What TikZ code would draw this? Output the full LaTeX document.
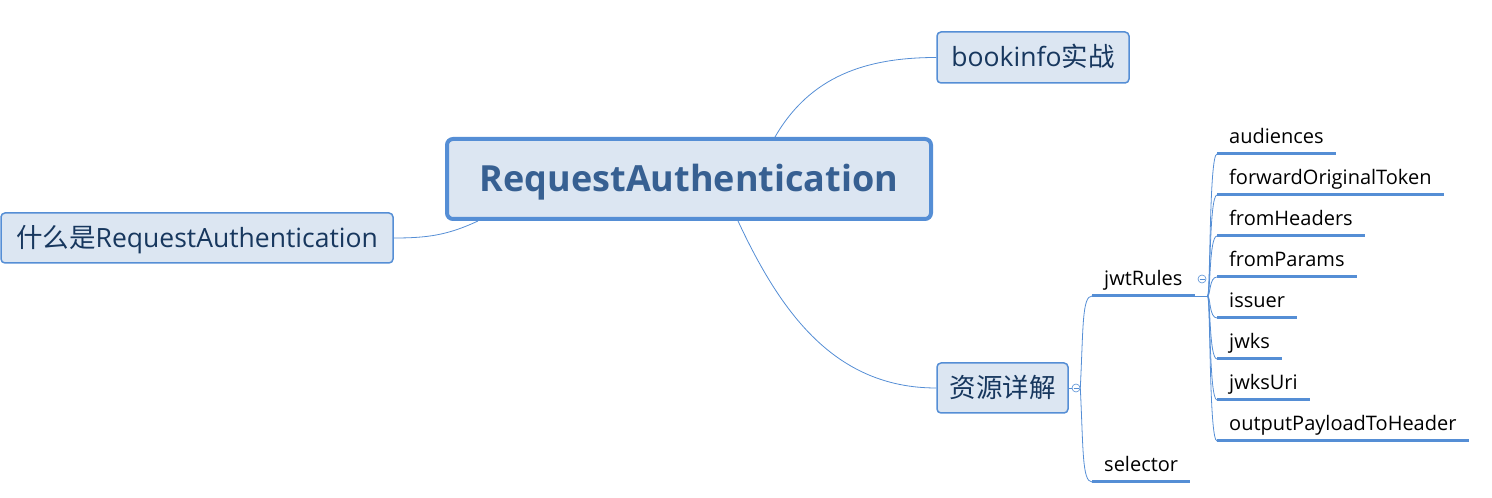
\documentclass[tikz,border=0pt]{standalone}
\usepackage{fontspec}
\setmainfont{Open Sans}
\newfontfamily\cjk{Noto Sans CJK SC}
\usetikzlibrary{positioning}
\definecolor{boxfill}{HTML}{DCE6F2}
\definecolor{boxline}{HTML}{558ED5}
\definecolor{roottext}{HTML}{376092}
\definecolor{boxtext}{HTML}{17375E}

\begin{document}
\begin{tikzpicture}[x=1pt,y=1pt,
    topic/.style={draw=boxline, fill=boxfill, rounded corners=4pt, line width=1.5pt, text=boxtext,
        font=\fontsize{26.5}{28}\selectfont, inner sep=0pt, text height=23pt, text depth=4pt},
    root/.style={topic, line width=4pt, rounded corners=6pt, text=roottext, text height=32pt, text depth=6pt,
        font=\fontsize{36}{40}\selectfont\bfseries, minimum width=484pt, minimum height=80pt},
    leaf/.style={anchor=south west, inner xsep=12pt, inner ysep=5pt, text height=15pt, text depth=5pt,
        font=\fontsize{20}{22}\selectfont},
    uline/.style={boxline, line width=3pt},
    branch/.style={boxline, line width=0.8pt},
    toggle/.style={circle, draw=boxline, fill=white, line width=0.6pt, minimum size=8pt, inner sep=0pt,
        path picture={\draw[boxline, line width=0.6pt] ([xshift=-2.5pt]path picture bounding box.center)
            -- ([xshift=2.5pt]path picture bounding box.center);}}
]
    \useasboundingbox (0,0) rectangle (1492,498);

    % central topic and main topics
    \node[root] (ra) at (689,319) {RequestAuthentication};
    \node[topic, minimum width=392pt, minimum height=50pt] (what) at (197,260) {{\cjk 什么是}RequestAuthentication};
    \node[topic, minimum width=192pt, minimum height=51pt] (book) at (1033,440.5) {bookinfo{\cjk 实战}};
    \node[topic, minimum width=131pt, minimum height=50pt] (res) at (1002.5,110) {\cjk 资源详解};

    \draw[branch] ([xshift=330pt]ra.north west) to[out=60,in=180] (book.west);
    \draw[branch] ([xshift=293pt]ra.south west) to[out=-65,in=180] (res.west);
    \draw[branch] (what.east) to[out=0,in=-155] ([xshift=33pt]ra.south west);

    % subtopics of res
    \node[toggle] (t1) at (1076,110) {};
    \draw[branch] (res.east) -- (t1.west);
    \node[leaf] (jwt) at (1092,202) {jwtRules};
    \node[leaf] (sel) at (1092,16) {selector};
    \draw[uline] (jwt.south west) -- (jwt.south east);
    \draw[uline] (sel.south west) -- (sel.south east);
    \draw[branch] (t1.east) .. controls +(3,60) and +(-10,0) .. (jwt.south west);
    \draw[branch] (t1.east) .. controls +(3,-60) and +(-10,0) .. (sel.south west);

    % fields of jwtRules
    \coordinate (jbr) at ([xshift=13pt]jwt.south east);
    \draw[branch] (jwt.south east) -- (jbr);
    \node[toggle] (t2) at (1202,219) {};
    \foreach \name/\y in {audiences/344, forwardOriginalToken/303, fromHeaders/262, fromParams/221,
                          issuer/180, jwks/139, jwksUri/98, outputPayloadToHeader/57} {
        \node[leaf] (\name) at (1217,\y) {\name};
        \draw[uline] (\name.south west) -- (\name.south east);
        \draw[branch] (jbr) .. controls +(3,0) and +(-8,0) .. (\name.south west);
    }
\end{tikzpicture}
\end{document}
